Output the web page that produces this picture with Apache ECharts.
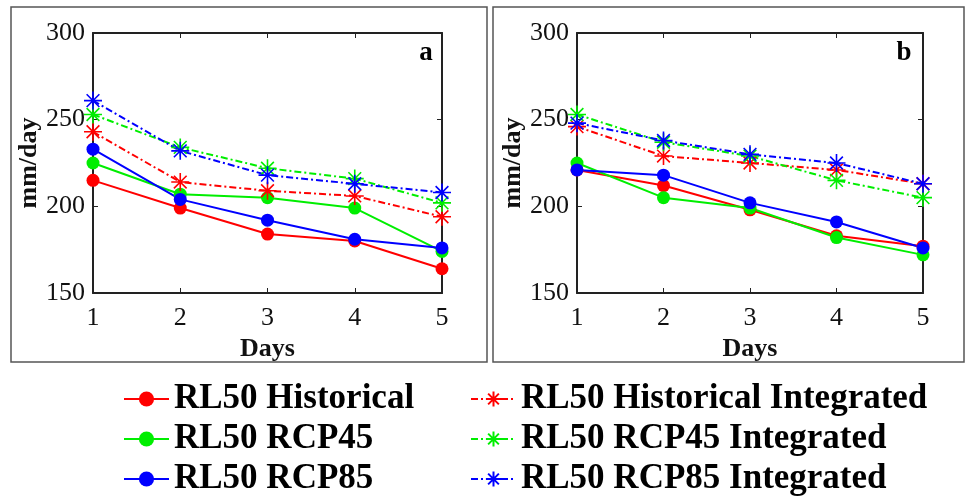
<!DOCTYPE html>
<html>
<head>
<meta charset="utf-8">
<script src="https://cdn.jsdelivr.net/npm/echarts@6/dist/echarts.min.js"></script>
<style>html,body{margin:0;padding:0;background:#fff}#c{width:968px;height:502px}</style>
</head>
<body>
<div id="c"></div>
<script>
const days = ['1', '2', '3', '4', '5'];
const yTicks = [150, 200, 250, 300];
const seriesNames = ['RL50 Historical', 'RL50 RCP45', 'RL50 RCP85',
  'RL50 Historical Integrated', 'RL50 RCP45 Integrated', 'RL50 RCP85 Integrated'];
// Panel a
const aHist = [215, 199, 184, 180, 164];
const aRcp45 = [225, 207, 205, 199, 174];
const aRcp85 = [233, 204, 192, 181, 176];
const aHistInt = [243, 214, 209, 206, 194];
const aRcp45Int = [253, 234, 222, 216, 202];
const aRcp85Int = [261, 232, 218, 213, 208];
// Panel b
const bHist = [221, 212, 198, 183, 177];
const bRcp45 = [225, 205, 199, 182, 172];
const bRcp85 = [221, 218, 202, 191, 176];
const bHistInt = [246, 229, 225, 221, 213];
const bRcp45Int = [253, 237, 229, 215, 205];
const bRcp85Int = [248, 238, 230, 225, 213];

const panelA = [aHist, aRcp45, aRcp85, aHistInt, aRcp45Int, aRcp85Int];
const panelB = [bHist, bRcp45, bRcp85, bHistInt, bRcp45Int, bRcp85Int];
const colors = ['#ff0000', '#00ee00', '#0000ff', '#ff0000', '#00ee00', '#0000ff'];

const FONT = '"Liberation Serif", "Times New Roman", serif';
const STAR = 'path://M0,-10L0,10M-10,0L10,0M-7.07,-7.07L7.07,7.07M-7.07,7.07L7.07,-7.07';

const grids = [
  {left: 93, top: 33, width: 349, height: 260},
  {left: 577, top: 33, width: 346, height: 260}
];

const xAxes = [], yAxes = [];
grids.forEach((g, gi) => {
  const lineStyle = {color: '#222', width: 2};
  xAxes.push({
    gridIndex: gi, type: 'category', data: days, boundaryGap: false, position: 'bottom',
    axisLine: {lineStyle}, axisTick: {inside: true, length: 5, alignWithLabel: true, lineStyle: {color: '#222'}},
    axisLabel: {fontFamily: FONT, fontSize: 26, color: '#111', margin: 12},
    name: 'Days', nameLocation: 'middle', nameGap: 43,
    nameTextStyle: {fontFamily: FONT, fontSize: 26, fontWeight: 'bold', color: '#111'},
    splitLine: {show: false}
  });
  xAxes.push({
    gridIndex: gi, type: 'category', data: days, boundaryGap: false, position: 'top',
    axisLine: {lineStyle}, axisTick: {inside: true, length: 5, lineStyle: {color: '#222'}},
    axisLabel: {show: false}, splitLine: {show: false}
  });
  yAxes.push({
    gridIndex: gi, type: 'value', min: yTicks[0], max: yTicks[yTicks.length - 1], interval: 50,
    position: 'left',
    axisLine: {show: true, lineStyle}, axisTick: {show: true, inside: true, length: 5, lineStyle: {color: '#222'}},
    axisLabel: {fontFamily: FONT, fontSize: 26, color: '#111', margin: 8},
    name: 'mm/day', nameLocation: 'middle', nameGap: 46, nameRotate: 90,
    nameTextStyle: {fontFamily: FONT, fontSize: 26, fontWeight: 'bold', color: '#111'},
    splitLine: {show: false}
  });
  yAxes.push({
    gridIndex: gi, type: 'value', min: yTicks[0], max: yTicks[yTicks.length - 1], interval: 50,
    position: 'right',
    axisLine: {show: true, lineStyle}, axisTick: {show: true, inside: true, length: 5, lineStyle: {color: '#222'}},
    axisLabel: {show: false}, splitLine: {show: false}
  });
});

const series = [];
[panelA, panelB].forEach((panel, pi) => {
  panel.forEach((vals, si) => {
    const integrated = si >= 3;
    series.push({
      name: seriesNames[si], type: 'line', data: vals,
      xAxisIndex: pi * 2, yAxisIndex: pi * 2,
      symbol: integrated ? STAR : 'circle',
      symbolSize: integrated ? 18 : 13,
      lineStyle: {color: colors[si], width: 2, type: integrated ? [7, 3, 2, 3] : 'solid'},
      itemStyle: integrated
        ? {color: colors[si], borderColor: colors[si], borderWidth: 1.6}
        : {color: colors[si], borderWidth: 0},
      animation: false
    });
  });
});

const legendText = {fontFamily: FONT, fontSize: 35, fontWeight: 'bold', color: '#000', lineHeight: 36};
const chart = echarts.init(document.getElementById('c'));
chart.setOption({
  animation: false,
  grid: grids,
  xAxis: xAxes,
  yAxis: yAxes,
  legend: [
    {data: seriesNames.slice(0, 3), left: 123, top: 381, orient: 'vertical', itemWidth: 45, itemHeight: 19,
      itemGap: 4, padding: 0, textStyle: legendText, selectedMode: false},
    {data: seriesNames.slice(3), left: 470, top: 381, orient: 'vertical', itemWidth: 45, itemHeight: 19,
      itemGap: 4, padding: 0, textStyle: legendText, selectedMode: false}
  ],
  graphic: [
    {type: 'rect', shape: {x: 11, y: 7, width: 476, height: 355}, style: {fill: 'none', stroke: '#555', lineWidth: 1.5}},
    {type: 'rect', shape: {x: 493, y: 7, width: 471, height: 355}, style: {fill: 'none', stroke: '#555', lineWidth: 1.5}},
    {type: 'text', x: 426, y: 53, style: {text: 'a', font: 'bold 27px ' + FONT, fill: '#000', textAlign: 'center', textVerticalAlign: 'middle'}},
    {type: 'text', x: 904, y: 53, style: {text: 'b', font: 'bold 27px ' + FONT, fill: '#000', textAlign: 'center', textVerticalAlign: 'middle'}}
  ],
  series
});
</script>
</body>
</html>
